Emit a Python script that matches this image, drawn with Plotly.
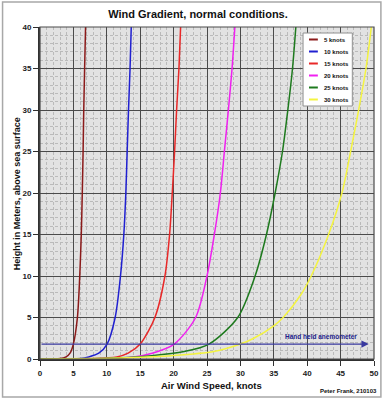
import plotly.graph_objects as go

# ---------------- data ----------------
series_names = ["5 knots", "10 knots", "15 knots", "20 knots", "25 knots", "30 knots"]
series_colors = ["#8B1A1A", "#2020D0", "#E82828", "#F020F0", "#1E7A1E", "#F4F440"]

heights_std = [0, 0.05, 0.25, 0.7, 1.8, 5, 10, 15, 20, 25, 30, 35, 40]

speed_5 = [0, 3.0, 3.9, 4.5, 5.0, 5.6, 5.95, 6.18, 6.33, 6.45, 6.55, 6.68, 6.82]
speed_10 = [0, 6.0, 7.3, 8.8, 10.05, 11.25, 12.05, 12.55, 12.85, 13.05, 13.25, 13.48, 13.66]
speed_15 = [0, 8.0, 11.5, 13.2, 15.0, 17.2, 18.7, 19.4, 19.8, 20.15, 20.45, 20.8, 21.05]
speed_20 = [0, 9.5, 14.0, 16.8, 20.1, 23.3, 25.0, 26.1, 27.0, 27.6, 28.2, 28.75, 29.17]

heights_25 = [0, 0.05, 0.4, 0.9, 1.8, 5, 10, 15, 20, 25, 30, 35, 40]
speed_25 = [0, 9.0, 16.7, 21.6, 25.3, 29.6, 32.2, 33.9, 35.2, 36.3, 37.1, 37.8, 38.3]

heights_30 = [0, 0.05, 0.15, 0.4, 0.9, 1.8, 2.5, 4.0, 5, 7.8, 10, 15, 20, 25, 30, 35, 40]
speed_30 = [0, 7.4, 13.0, 19.6, 26.0, 30.0, 32.0, 35.0, 36.4, 39.1, 40.6, 43.2, 45.2, 46.5, 47.7, 48.8, 49.6]

series_x = [speed_5, speed_10, speed_15, speed_20, speed_25, speed_30]
series_y = [heights_std, heights_std, heights_std, heights_std, heights_25, heights_30]

anemometer_height = 1.8
anemometer_end = 49.2
x_ticks = [0, 5, 10, 15, 20, 25, 30, 35, 40, 45, 50]
y_ticks = [0, 5, 10, 15, 20, 25, 30, 35, 40]

# ---------------- layout geometry ----------------
W, H = 389, 400
ML, MR, MT, MB = 40, 10, 27, 41
PW = W - ML - MR
PH = H - MT - MB


def px_x(px):
    return (px - ML) / PW


def px_y(py):
    return (H - MB - py) / PH


FONT = "Liberation Sans, Arial, sans-serif"

fig = go.Figure()
for name, col, xs, ys in zip(series_names, series_colors, series_x, series_y):
    fig.add_trace(go.Scatter(
        x=xs, y=ys, mode="lines", name=name,
        line=dict(color=col, width=1.5, shape="spline", smoothing=0.8),
        showlegend=False, hoverinfo="x+y+name",
    ))

axis_common = dict(
    showgrid=True, gridcolor="#4a4a4a", gridwidth=1.2,
    showline=True, linecolor="#303030", linewidth=2,
    ticks="outside", ticklen=5, tickcolor="#303030", tickwidth=1.2,
    tickfont=dict(family=FONT, size=8, color="#222222", weight="bold"),
    zeroline=False,
    minor=dict(dtick=1, showgrid=True, gridcolor="#bababa", gridwidth=1,
               griddash="3px,2px", ticks=""),
)

fig.update_xaxes(range=[0, 50], tickvals=x_ticks, **axis_common)
fig.update_yaxes(range=[0, 40], tickvals=y_ticks, **axis_common)

shapes = []
annotations = []

# outer frame
shapes.append(dict(type="rect", xref="paper", yref="paper",
                   x0=px_x(2), x1=px_x(386), y0=px_y(2), y1=px_y(397),
                   line=dict(color="#a8a8a8", width=1.5), fillcolor="rgba(0,0,0,0)", layer="below"))
# top / right border of plot area
shapes.append(dict(type="rect", xref="paper", yref="paper", x0=0, x1=1, y0=0, y1=1,
                   line=dict(color="#4a4a4a", width=1.2), fillcolor="rgba(0,0,0,0)"))

# legend box (manual, compact like the reference)
lx0, lx1, ly0, ly1 = 307, 357, 33, 106
shapes.append(dict(type="rect", xref="paper", yref="paper",
                   x0=px_x(lx0), x1=px_x(lx1), y0=px_y(ly1), y1=px_y(ly0),
                   line=dict(color="#909090", width=1), fillcolor="white"))
for i, (name, col) in enumerate(zip(series_names, series_colors)):
    py = 39.5 + i * 12.0
    shapes.append(dict(type="line", xref="paper", yref="paper",
                       x0=px_x(313), x1=px_x(322), y0=px_y(py), y1=px_y(py),
                       line=dict(color=col, width=2)))
    annotations.append(dict(xref="paper", yref="paper", x=px_x(326), y=px_y(py),
                            xanchor="left", yanchor="middle", showarrow=False,
                            text="<b>%s</b>" % name,
                            font=dict(family=FONT, size=6, color="#111111")))

# anemometer arrow
annotations.append(dict(x=anemometer_end, y=anemometer_height, ax=0, ay=anemometer_height,
                        xref="x", yref="y", axref="x", ayref="y", text="",
                        showarrow=True, arrowhead=2, arrowsize=1.2, arrowwidth=1.2,
                        arrowcolor="#3a3aa0"))
annotations.append(dict(x=36.4, y=anemometer_height, xref="x", yref="y", xanchor="left",
                        yanchor="bottom", yshift=2, showarrow=False,
                        text="<b>Hand held anemometer</b>",
                        font=dict(family=FONT, size=6.5, color="#20208a")))

# axis titles and credit
annotations.append(dict(xref="paper", yref="paper", x=px_x(214), y=px_y(385),
                        xanchor="center", yanchor="middle", showarrow=False,
                        text="<b>Air Wind Speed, knots</b>",
                        font=dict(family=FONT, size=9.5, color="#111111")))
annotations.append(dict(xref="paper", yref="paper", x=px_x(17), y=px_y(194),
                        xanchor="center", yanchor="middle", showarrow=False, textangle=-90,
                        text="<b>Height in Meters, above sea surface</b>",
                        font=dict(family=FONT, size=9, color="#111111")))
annotations.append(dict(xref="paper", yref="paper", x=px_x(384), y=px_y(391),
                        xanchor="right", yanchor="middle", showarrow=False,
                        text="<b>Peter Frank, 210103</b>",
                        font=dict(family=FONT, size=6, color="#111111")))

fig.update_layout(
    width=W, height=H,
    margin=dict(l=ML, r=MR, t=MT, b=MB),
    paper_bgcolor="white", plot_bgcolor="#e2e2e2",
    title=dict(text="<b>Wind Gradient, normal conditions.</b>", x=198 / W, xanchor="center",
               y=1 - 14 / H, yanchor="middle", xref="container", yref="container",
               font=dict(family=FONT, size=11, color="#111111")),
    shapes=shapes, annotations=annotations, showlegend=False,
)

fig.write_html("out.html", config={"displayModeBar": False},
               post_script="document.body.style.margin='0';document.body.style.overflow='hidden';")
